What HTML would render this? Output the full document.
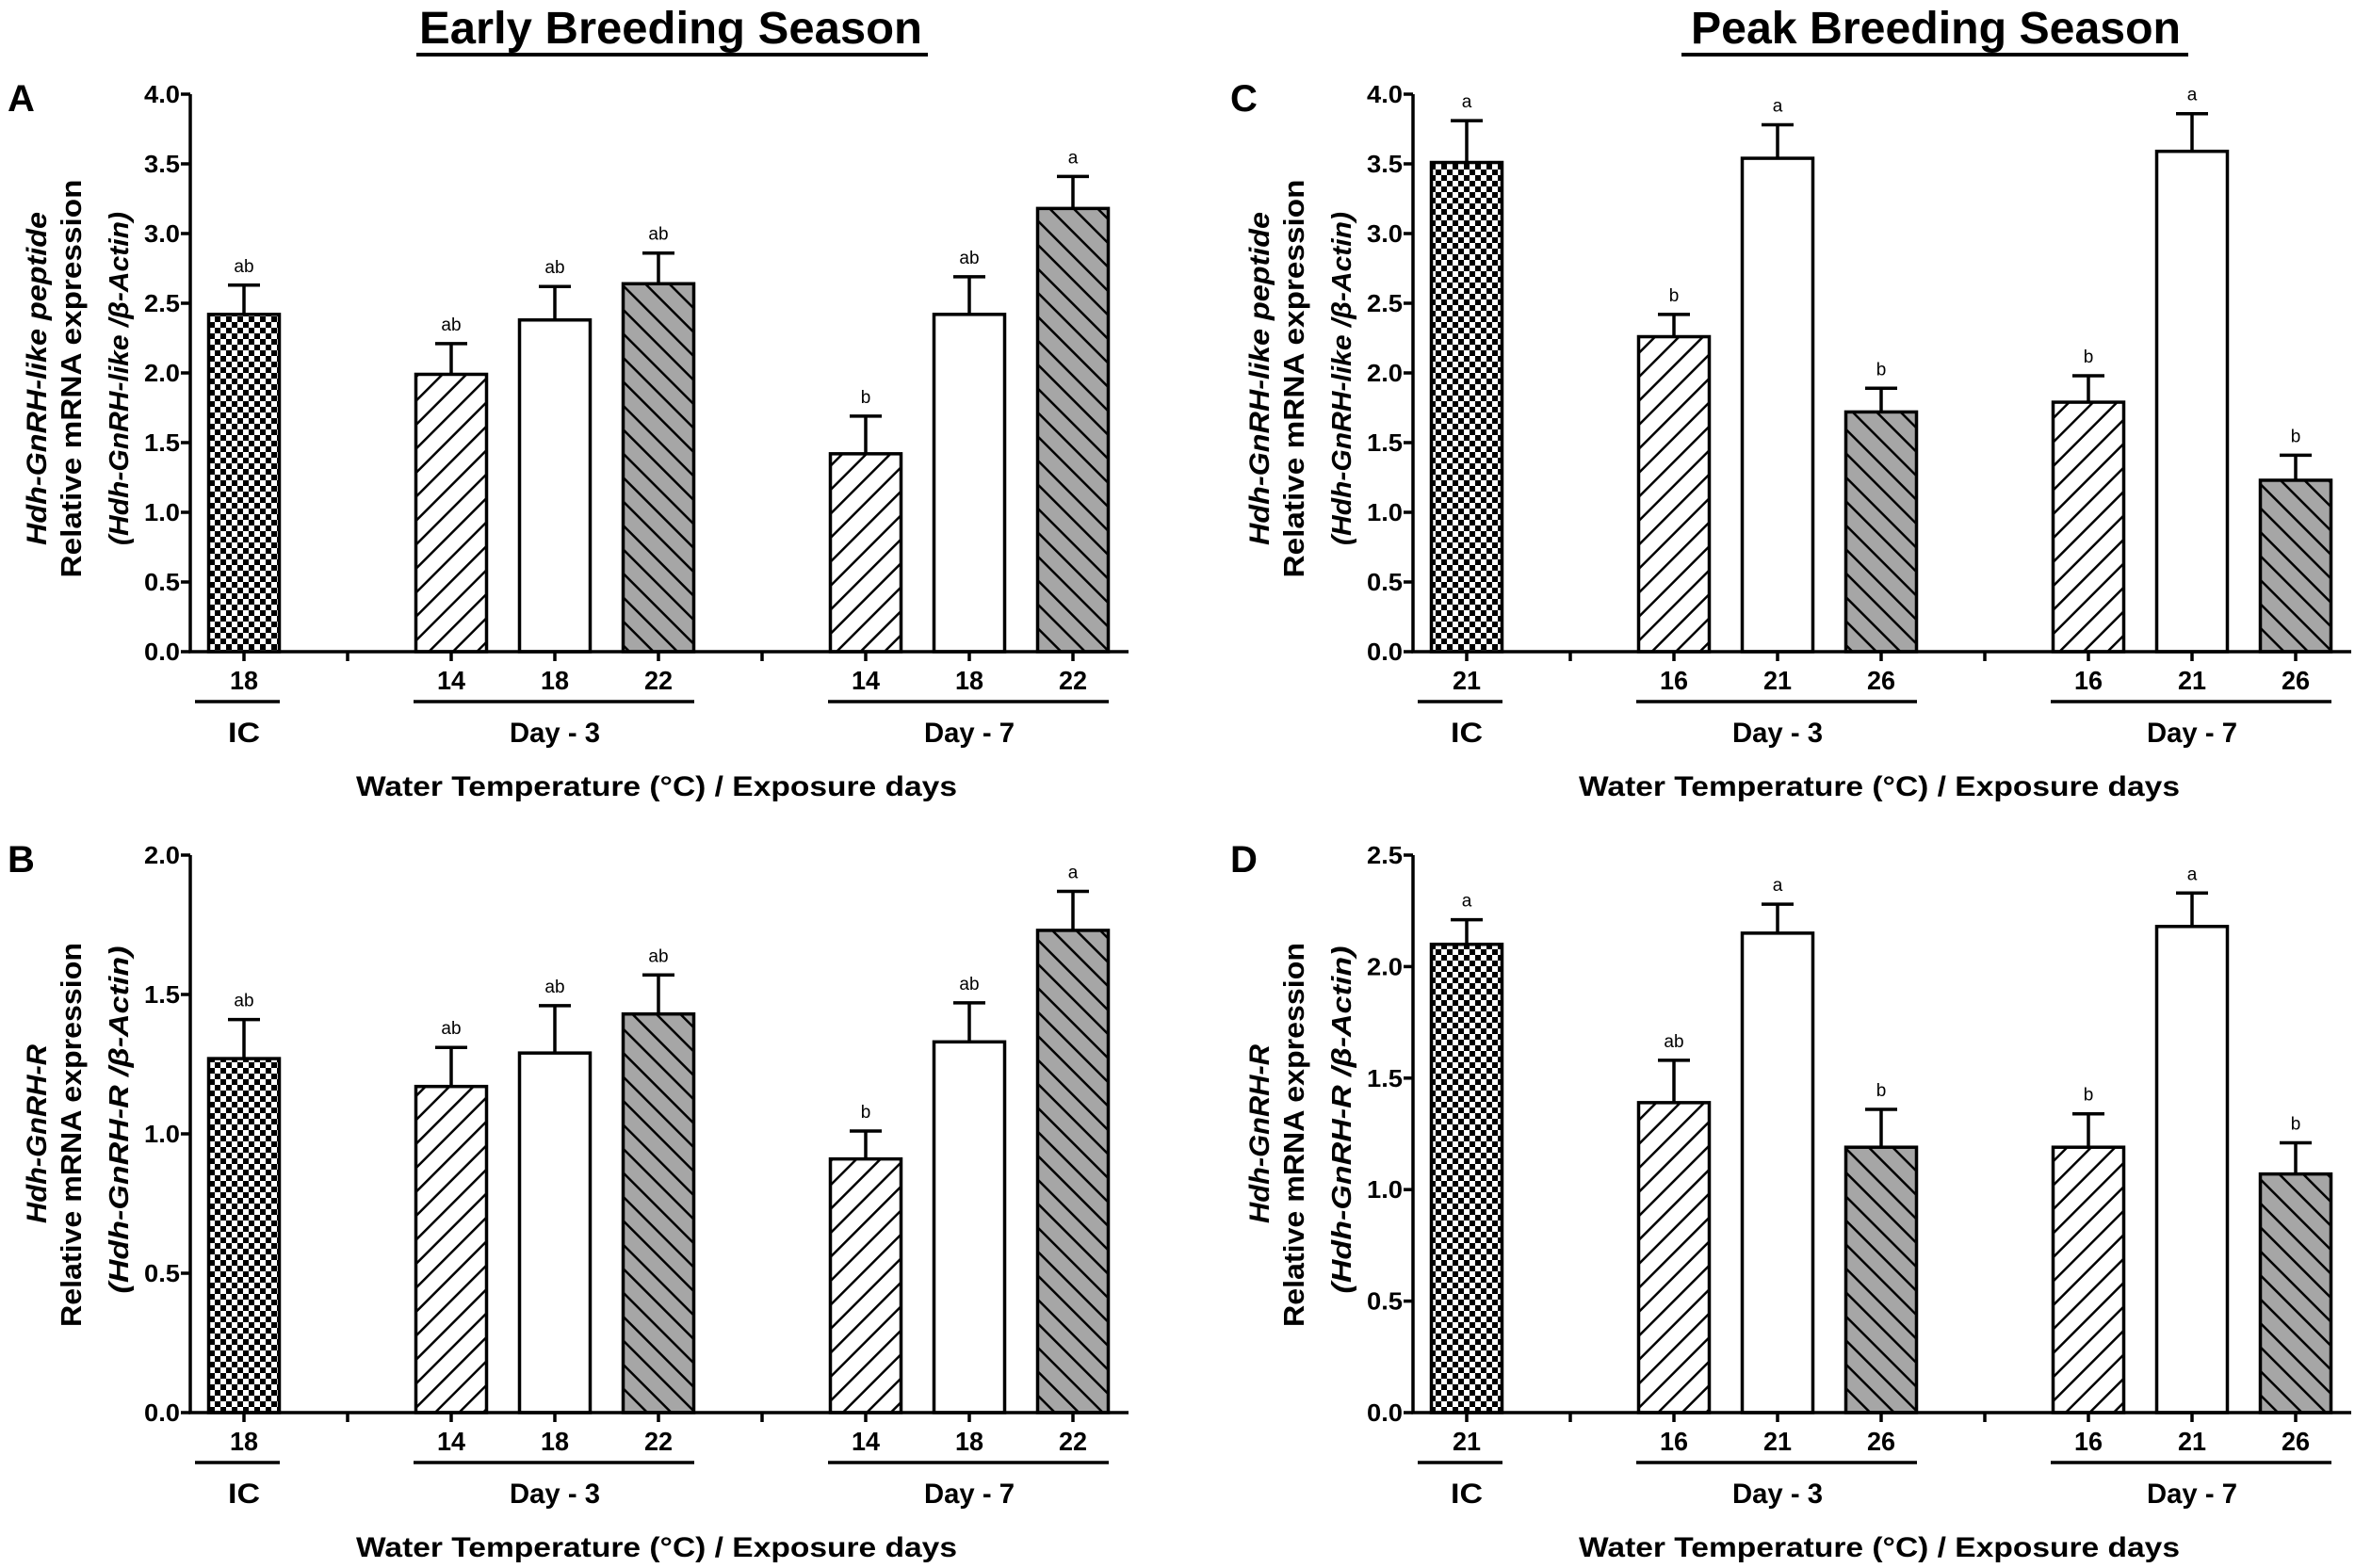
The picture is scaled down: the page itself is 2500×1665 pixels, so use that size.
<!DOCTYPE html>
<html><head><meta charset="utf-8">
<style>
html,body{margin:0;padding:0;background:#fff;}
svg{display:block;}
text{font-family:"Liberation Sans",sans-serif;fill:#000;}
.nar{font-family:"Liberation Sans Narrow","Liberation Sans",sans-serif;font-weight:bold;}
</style></head>
<body>
<svg id="fig" width="2500" height="1665" viewBox="0 0 2500 1665" xmlns="http://www.w3.org/2000/svg">
<defs>
<pattern id="checker" patternUnits="userSpaceOnUse" width="12" height="12">
<rect width="12" height="12" fill="#fff"/><rect x="0" y="0" width="6" height="6" fill="#000"/><rect x="6" y="6" width="6" height="6" fill="#000"/>
</pattern>
<pattern id="fwd" patternUnits="userSpaceOnUse" width="18" height="18" patternTransform="rotate(45)">
<rect width="18" height="18" fill="#fff"/><line x1="0" y1="0" x2="0" y2="18" stroke="#000" stroke-width="5"/>
</pattern>
<pattern id="back" patternUnits="userSpaceOnUse" width="18" height="18" patternTransform="rotate(-45)">
<rect width="18" height="18" fill="#a6a6a6"/><line x1="0" y1="0" x2="0" y2="18" stroke="#000" stroke-width="5"/>
</pattern>
</defs>
<text x="712" y="46" font-size="48" font-weight="bold" text-anchor="middle" textLength="534" lengthAdjust="spacingAndGlyphs">Early Breeding Season</text>
<line x1="442" y1="58" x2="985" y2="58" stroke="#000" stroke-width="4"/>
<text x="2055" y="46" font-size="48" font-weight="bold" text-anchor="middle" textLength="520" lengthAdjust="spacingAndGlyphs">Peak Breeding Season</text>
<line x1="1785" y1="58" x2="2323" y2="58" stroke="#000" stroke-width="4"/>
<g id="panels"></g>
</svg>
<script>
// Panel A
const aValues = [2.42, 1.99, 2.38, 2.64, 1.42, 2.42, 3.18];
const aErrors = [0.21, 0.22, 0.24, 0.22, 0.27, 0.27, 0.23];
const aLetters = ["ab","ab","ab","ab","b","ab","a"];
const aCats = ["18","14","18","22","14","18","22"];
const aTicks = ["0.0","0.5","1.0","1.5","2.0","2.5","3.0","3.5","4.0"];
// Panel B
const bValues = [1.27, 1.17, 1.29, 1.43, 0.91, 1.33, 1.73];
const bErrors = [0.14, 0.14, 0.17, 0.14, 0.10, 0.14, 0.14];
const bLetters = ["ab","ab","ab","ab","b","ab","a"];
const bTicks = ["0.0","0.5","1.0","1.5","2.0"];
// Panel C
const cValues = [3.51, 2.26, 3.54, 1.72, 1.79, 3.59, 1.23];
const cErrors = [0.30, 0.16, 0.24, 0.17, 0.19, 0.27, 0.18];
const cLetters = ["a","b","a","b","b","a","b"];
const cCats = ["21","16","21","26","16","21","26"];
// Panel D
const dValues = [2.10, 1.39, 2.15, 1.19, 1.19, 2.18, 1.07];
const dErrors = [0.11, 0.19, 0.13, 0.17, 0.15, 0.15, 0.14];
const dLetters = ["a","ab","a","b","b","a","b"];
const dTicks = ["0.0","0.5","1.0","1.5","2.0","2.5"];
const groups = ["IC","Day - 3","Day - 7"];
const slots = [0,2,3,4,6,7,8];
const fills = ["url(#checker)","url(#fwd)","#fff","url(#back)","url(#fwd)","#fff","url(#back)"];

const NS="http://www.w3.org/2000/svg";
const root=document.getElementById('panels');
function mk(tag,attrs,parent,txt){const e=document.createElementNS(NS,tag);for(const k in attrs)e.setAttribute(k,attrs[k]);if(txt!==undefined)e.textContent=txt;parent.appendChild(e);return e;}

function panel(ox,oy,letter,vals,errs,lets,cats,ticks,ymax,yl1,yl3,tl){
  const g=mk('g',{},root);
  
  
  const axX=ox+202, base=oy+692, top=oy+100;
  const yS=v=>base-(v/ymax)*(base-top);
  const xS=s=>ox+259+110*s;
  const bw=75;
  const pl=mk('text',{x:ox+8,y:oy+118,'font-size':40,'font-weight':'bold'},g,letter);
  
  
  vals.forEach((v,i)=>{
    const cx=xS(slots[i]), y=yS(v), ye=yS(v+errs[i]);
    const r=mk('rect',{x:cx-bw/2,y:y,width:bw,height:base-y,fill:fills[i],stroke:'#000','stroke-width':3.5},g);
    
    
    const e=mk('path',{d:`M${cx},${y}V${ye}M${cx-17},${ye}H${cx+17}`,stroke:'#000','stroke-width':3.5,fill:'none'},g);
    
    
    const t=mk('text',{x:cx,y:ye-14,'font-size':19,'text-anchor':'middle'},g,lets[i]);
    
    
    const c=mk('text',{x:cx,y:oy+732,'font-size':28,'text-anchor':'middle',class:'nar',textLength:cats[i].length*15,lengthAdjust:'spacingAndGlyphs'},g,cats[i]);
    
    
    mk('line',{x1:cx,y1:base,x2:cx,y2:base+10,stroke:'#000','stroke-width':3.5},g);
  });
  mk('line',{x1:xS(1),y1:base,x2:xS(1),y2:base+10,stroke:'#000','stroke-width':3.5},g);
  mk('line',{x1:xS(5),y1:base,x2:xS(5),y2:base+10,stroke:'#000','stroke-width':3.5},g);
  const ax=mk('path',{d:`M${axX},${top}V${base}H${ox+1198}`,stroke:'#000','stroke-width':3.5,fill:'none'},g);
  
  
  ticks.forEach(tk=>{
    const y=yS(parseFloat(tk));
    mk('line',{x1:axX-10,y1:y,x2:axX,y2:y,stroke:'#000','stroke-width':3.5},g);
    const t=mk('text',{x:axX-11,y:y+9,'font-size':26,'text-anchor':'end',class:'nar',textLength:38,lengthAdjust:'spacingAndGlyphs'},g,tk);
    
    
  });
  [[0,0],[2,4],[6,8]].forEach((gr,k)=>{
    const x1=xS(gr[0])-(k==0?52:40), x2=xS(gr[1])+38;
    const l=mk('line',{x1:x1,y1:oy+745,x2:x2,y2:oy+745,stroke:'#000','stroke-width':3.5},g);
    
    
    const t=mk('text',{x:(xS(gr[0])+xS(gr[1]))/2,y:oy+788,'font-size':30,'text-anchor':'middle',class:'nar',textLength:(k==0?34:96),lengthAdjust:'spacingAndGlyphs'},g,groups[k]);
    
    
  });
  const xt=mk('text',{x:ox+697,y:oy+845,'font-size':30,'font-weight':'bold','text-anchor':'middle',textLength:638,lengthAdjust:'spacingAndGlyphs'},g,'Water Temperature (°C) / Exposure days');
  
  
  const cy=oy+398;
  const yt=mk('g',{transform:`translate(${ox},${cy}) rotate(-90)`},g);
  
  
  mk('text',{x:tl[0],y:49,'font-size':30,'font-weight':'bold','font-style':'italic','text-anchor':'middle',textLength:tl[1],lengthAdjust:'spacingAndGlyphs'},yt,yl1);
  mk('text',{x:tl[2],y:86,'font-size':31,'font-weight':'bold','text-anchor':'middle',textLength:tl[3],lengthAdjust:'spacingAndGlyphs'},yt,'Relative mRNA expression');
  mk('text',{x:tl[4],y:136,'font-size':29,'font-weight':'bold','font-style':'italic','text-anchor':'middle',textLength:tl[5],lengthAdjust:'spacingAndGlyphs'},yt,yl3);
}
const tlA=[-4,354,-4,423,-4,354], tlB=[2,190,1,408,17,369];
panel(0,0,'A',aValues,aErrors,aLetters,aCats,aTicks,4,'Hdh-GnRH-like peptide','(Hdh-GnRH-like /β-Actin)',tlA);
panel(0,808,'B',bValues,bErrors,bLetters,aCats,bTicks,2,'Hdh-GnRH-R','(Hdh-GnRH-R /β-Actin)',tlB);
panel(1298,0,'C',cValues,cErrors,cLetters,cCats,aTicks,4,'Hdh-GnRH-like peptide','(Hdh-GnRH-like /β-Actin)',tlA);
panel(1298,808,'D',dValues,dErrors,dLetters,cCats,dTicks,2.5,'Hdh-GnRH-R','(Hdh-GnRH-R /β-Actin)',tlB);
</script>
</body></html>
